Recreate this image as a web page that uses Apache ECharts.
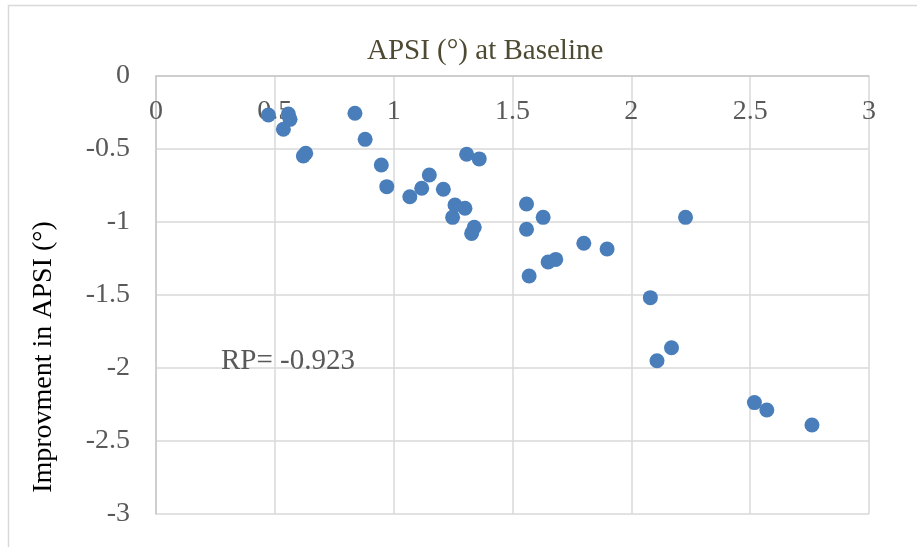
<!DOCTYPE html>
<html>
<head>
<meta charset="utf-8">
<script src="https://cdn.jsdelivr.net/npm/echarts@6/dist/echarts.min.js"></script>
<style>
html,body{margin:0;padding:0;background:#fff;}
#main{width:917px;height:547px;}
</style>
</head>
<body>
<div id="main"></div>
<script>
// APSI at baseline (x) vs improvement in APSI (y)
var xValues = [0.473, 0.557, 0.564, 0.536, 0.620, 0.630, 0.837, 0.880,
  0.948, 0.971, 1.068, 1.118, 1.150, 1.209, 1.307, 1.360, 1.258, 1.300, 1.248, 1.339, 1.328,
  1.559, 1.629, 1.559, 1.800, 1.898, 1.650, 1.682, 1.570, 2.228,
  2.080, 2.169, 2.108, 2.518, 2.570, 2.760];
var yValues = [-0.267, -0.260, -0.297, -0.365, -0.548, -0.529, -0.255, -0.434,
  -0.610, -0.758, -0.827, -0.769, -0.678, -0.776, -0.536, -0.568, -0.884, -0.906, -0.968, -1.036, -1.078,
  -0.877, -0.968, -1.050, -1.146, -1.185, -1.274, -1.256, -1.370, -0.968,
  -1.518, -1.861, -1.950, -2.237, -2.288, -2.390];
var titleText = 'APSI (°) at Baseline';
var yAxisName = 'Improvment in APSI (°)';
var annotationText = 'RP= -0.923';

var points = xValues.map(function (x, i) { return [x, yValues[i]]; });

var font = 'Liberation Serif, Times New Roman, serif';
var chart = echarts.init(document.getElementById('main'), null, {renderer: 'canvas'});
chart.setOption({
  animation: false,
  backgroundColor: '#ffffff',
  title: {
    text: titleText,
    left: 367,
    top: 37,
    padding: 0,
    textStyle: {fontFamily: font, fontSize: 29, fontWeight: 'normal', color: '#4f4a32'}
  },
  grid: {left: 156, top: 76, width: 713, height: 438, containLabel: false, outerBoundsMode: 'none'},
  xAxis: {
    type: 'value',
    min: 0, max: 3, interval: 0.5,
    position: 'top',
    axisLine: {onZero: false, lineStyle: {color: '#c8c8c8', width: 1.5}},
    axisTick: {show: false},
    axisLabel: {inside: true, margin: 22, fontFamily: font, fontSize: 28, color: '#595959'},
    splitLine: {show: true, lineStyle: {color: '#d9d9d9', width: 1.5}}
  },
  yAxis: {
    type: 'value',
    min: -3, max: 0, interval: 0.5,
    name: yAxisName,
    nameLocation: 'middle',
    nameRotate: 90,
    nameGap: 98,
    nameTextStyle: {fontFamily: font, fontSize: 28, color: '#000000', padding: [0, 124, 0, 0]},
    axisLine: {show: true, onZero: false, lineStyle: {color: '#c8c8c8', width: 1.5}},
    axisTick: {show: false},
    axisLabel: {margin: 26, fontFamily: font, fontSize: 28, color: '#595959'},
    splitLine: {show: true, lineStyle: {color: '#d9d9d9', width: 1.5}}
  },
  graphic: [
    {type: 'rect', silent: true, z: -1,
     shape: {x: 8.5, y: 5.5, width: 930, height: 560},
     style: {fill: 'none', stroke: '#d9d9d9', lineWidth: 1.5}},
    {type: 'text', left: 221, top: 347, z: 10,
     style: {text: annotationText, fontFamily: font, fontSize: 29, fill: '#595959'}}
  ],
  series: [{
    type: 'scatter',
    data: points,
    symbol: 'circle',
    symbolSize: 15,
    itemStyle: {color: '#4a7ebb', opacity: 1}
  }]
});
</script>
</body>
</html>
